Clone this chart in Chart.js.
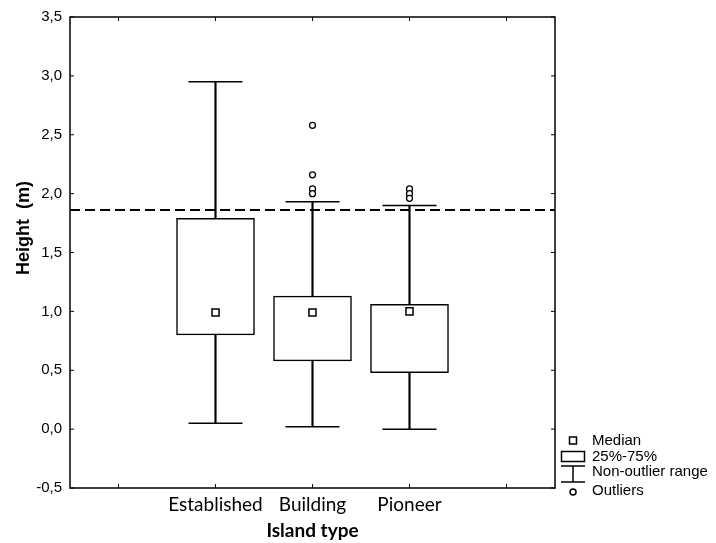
<!DOCTYPE html>
<html>
<head>
<meta charset="utf-8">
<script src="https://cdn.jsdelivr.net/npm/chart.js@4.4.1/dist/chart.umd.min.js"></script>
<style>
  body { margin: 0; background: #fff; }
</style>
</head>
<body>
<canvas id="heightChart" width="716" height="543"></canvas>
<script>
// Tree height by island type (box = 25%-75%, whiskers = non-outlier range)
var categories = ["", "Established", "Building", "Pioneer", ""];
var lowerQuartile = [null, 0.80, 0.58, 0.48, null];
var upperQuartile = [null, 1.79, 1.13, 1.06, null];
var medians = [null, 0.99, 0.99, 1.00, null];
var whiskerLow = [null, 0.05, 0.02, 0.00, null];
var whiskerHigh = [null, 2.95, 1.93, 1.90, null];
var outliersBuilding = [2.58, 2.16, 2.04, 2.00];
var outliersPioneer = [2.04, 2.00, 1.96];
var referenceHeight = 1.86;
var yTicks = [-0.5, 0, 0.5, 1, 1.5, 2, 2.5, 3, 3.5];

function commaDecimal(v) {
    return v.toFixed(1).replace(".", ",");
}

// build datasets from the arrays above
var boxData = [];
var whiskerData = [];
var capPoints = [];
var medianPoints = [];
for (var i = 0; i < categories.length; i++) {
    if (lowerQuartile[i] == null) {
        boxData.push(null);
        whiskerData.push(null);
        continue;
    }
    boxData.push([lowerQuartile[i], upperQuartile[i]]);
    whiskerData.push([whiskerLow[i], whiskerHigh[i]]);
    capPoints.push({ x: categories[i], y: whiskerLow[i] });
    capPoints.push({ x: categories[i], y: whiskerHigh[i] });
    medianPoints.push({ x: categories[i], y: medians[i] });
}
var outlierPoints = [];
outliersBuilding.forEach(function (v) { outlierPoints.push({ x: "Building", y: v }); });
outliersPioneer.forEach(function (v) { outlierPoints.push({ x: "Pioneer", y: v }); });

// frame, inward ticks, dashed reference line, y title and the side legend
var framePlugin = {
    id: "frame",
    afterDatasetsDraw: function (chart) {
        var ctx = chart.ctx;
        var a = chart.chartArea;
        var y = chart.scales.y.getPixelForValue(referenceHeight);
        ctx.save();
        ctx.strokeStyle = "#000";
        ctx.lineWidth = 2;
        ctx.setLineDash([10, 5]);
        ctx.beginPath();
        ctx.moveTo(a.left, y);
        ctx.lineTo(a.right, y);
        ctx.stroke();
        ctx.restore();
    },
    afterDraw: function (chart) {
        var ctx = chart.ctx;
        var a = chart.chartArea;
        var xs = chart.scales.x;
        var ys = chart.scales.y;
        ctx.save();
        ctx.strokeStyle = "#000";
        ctx.lineWidth = 1.5;
        ctx.strokeRect(a.left, a.top, a.right - a.left, a.bottom - a.top);
        ctx.lineWidth = 1;
        ctx.beginPath();
        ys.ticks.forEach(function (t, k) {
            var py = ys.getPixelForTick(k);
            ctx.moveTo(a.left, py); ctx.lineTo(a.left + 4, py);
            ctx.moveTo(a.right, py); ctx.lineTo(a.right - 4, py);
        });
        xs.ticks.forEach(function (t, k) {
            var px = xs.getPixelForTick(k);
            ctx.moveTo(px, a.bottom); ctx.lineTo(px, a.bottom - 4);
            ctx.moveTo(px, a.top); ctx.lineTo(px, a.top + 4);
        });
        ctx.stroke();

        // y axis title
        ctx.save();
        ctx.translate(24, 228);
        ctx.rotate(-Math.PI / 2);
        ctx.fillStyle = "#000";
        ctx.font = "bold 18px 'Liberation Sans', Arial, sans-serif";
        ctx.textAlign = "center";
        ctx.textBaseline = "middle";
        ctx.fillText("Height  (m)", 0, 0);
        ctx.restore();

        // legend
        var cx = 573;
        ctx.lineWidth = 1.5;
        ctx.strokeRect(cx - 3.5, 437, 7, 7);
        ctx.strokeRect(561.5, 451.5, 23, 10);
        ctx.beginPath();
        ctx.moveTo(561, 466); ctx.lineTo(585, 466);
        ctx.moveTo(cx, 466); ctx.lineTo(cx, 482);
        ctx.moveTo(561, 482); ctx.lineTo(585, 482);
        ctx.stroke();
        ctx.beginPath();
        ctx.arc(cx, 492, 3, 0, Math.PI * 2);
        ctx.stroke();
        ctx.fillStyle = "#000";
        ctx.font = "15px 'Liberation Sans', Arial, sans-serif";
        ctx.textBaseline = "middle";
        ctx.fillText("Median", 592, 441);
        ctx.fillText("25%-75%", 592, 457);
        ctx.fillText("Non-outlier range", 592, 472);
        ctx.fillText("Outliers", 592, 491);
        ctx.restore();
    }
};

var ctx = document.getElementById("heightChart").getContext("2d");
var heightChart = new Chart(ctx, {
    type: "bar",
    data: {
        labels: categories,
        datasets: [
            {
                type: "line",
                label: "Outliers",
                data: outlierPoints,
                showLine: false,
                pointStyle: "circle",
                pointRadius: 3,
                pointBorderWidth: 1.3,
                pointBackgroundColor: "#fff",
                pointBorderColor: "#000",
                order: 1
            },
            {
                type: "line",
                label: "Median",
                data: medianPoints,
                showLine: false,
                pointStyle: "rect",
                pointRadius: 5,
                pointBorderWidth: 1.5,
                pointBackgroundColor: "#fff",
                pointBorderColor: "#000",
                order: 1
            },
            {
                type: "line",
                label: "Caps",
                data: capPoints,
                showLine: false,
                pointStyle: "line",
                pointRadius: 27,
                pointBorderWidth: 1.5,
                pointBorderColor: "#000",
                order: 2
            },
            {
                label: "25%-75%",
                data: boxData,
                backgroundColor: "#fff",
                borderColor: "#000",
                borderWidth: 1.5,
                borderSkipped: false,
                barThickness: 78,
                grouped: false,
                order: 3
            },
            {
                label: "Non-outlier range",
                data: whiskerData,
                backgroundColor: "#000",
                borderWidth: 0,
                barThickness: 1.5,
                grouped: false,
                order: 4
            }
        ]
    },
    options: {
        responsive: false,
        animation: false,
        layout: { autoPadding: false, padding: { top: 15, right: 161, left: 0, bottom: 0 } },
        plugins: {
            legend: { display: false },
            tooltip: { enabled: false }
        },
        scales: {
            x: {
                type: "category",
                offset: true,
                grid: { display: false, drawTicks: false },
                border: { display: false },
                ticks: {
                    color: "#000",
                    padding: 5,
                    autoSkip: false,
                    maxRotation: 0,
                    font: { family: "Lato", size: 19 }
                },
                title: {
                    display: true,
                    text: "Island type",
                    color: "#000",
                    padding: { top: 0, bottom: 1 },
                    font: { family: "Lato", size: 19, weight: "bold" }
                },
                afterFit: function (scale) { scale.height = 55; }
            },
            y: {
                min: -0.5,
                max: 3.5,
                grid: { display: false, drawTicks: false },
                border: { display: false },
                afterBuildTicks: function (scale) {
                    scale.ticks = yTicks.map(function (v) { return { value: v }; });
                },
                ticks: {
                    color: "#000",
                    padding: 8,
                    font: { family: "'Liberation Sans', Arial", size: 15 },
                    callback: function (value) { return commaDecimal(value); }
                },
                afterFit: function (scale) { scale.width = 70; }
            }
        }
    },
    plugins: [framePlugin]
});
</script>
</body>
</html>
